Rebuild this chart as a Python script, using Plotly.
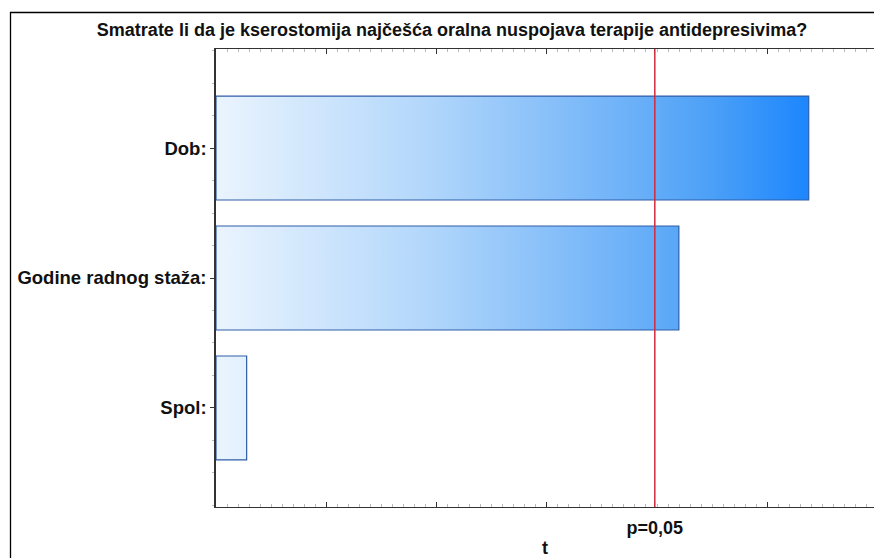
import plotly.graph_objects as go

categories = ["Dob:", "Godine radnog staža:", "Spol:"]
t_values = [2.688, 2.099, 0.139]
t_crit = 1.99
crit_label = "p=0,05"
title = "Smatrate li da je kserostomija najčešća oralna nuspojava terapije antidepresivima?"
major_ticks = [0.0, 0.5, 1.0, 1.5, t_crit, 2.5]

W, H = 874, 558
ML, MR, MT, MB = 216, 0, 49, H - 507
PW, PH = W - ML - MR, H - MT - MB

FONT = "Liberation Sans, Arial"

fig = go.Figure()
n = len(categories)
ypos = [n - 1 - i for i in range(n)]
half = 0.4
grad_stop = max(t_values)
scale = [[0.0, "#eaf4fe"], [0.35, "#b3d7fb"], [0.7, "#6cb1f8"], [0.85, "#489ef7"], [1.0, "#1c86fe"]]
for cat, v, y in zip(categories, t_values, ypos):
    fig.add_trace(go.Scatter(
        x=[0, v, v, 0, 0],
        y=[y - half, y - half, y + half, y + half, y - half],
        mode="lines", fill="toself",
        fillgradient=dict(type="horizontal", colorscale=scale, start=0, stop=grad_stop),
        line=dict(color="#2e5ea6", width=1.2),
        hoverinfo="skip", showlegend=False, name=cat,
    ))

fig.add_shape(type="line", xref="x", yref="paper", x0=t_crit, x1=t_crit, y0=0, y1=1,
              line=dict(color="#d42a3c", width=1.5))

# outer frame
fig.add_shape(type="rect", xref="paper", yref="paper",
              x0=(10.5 - ML) / PW, x1=1.05,
              y0=-0.3, y1=1 + (MT - 12.5) / PH,
              line=dict(color="#000000", width=1.3), fillcolor="rgba(0,0,0,0)", layer="below")

fig.update_layout(
    width=W, height=H,
    margin=dict(l=ML, r=MR, t=MT, b=MB, autoexpand=False),
    paper_bgcolor="white", plot_bgcolor="white",
    title=dict(text="<b>%s</b>" % title, x=452 / W, xanchor="center",
               y=1 - 30 / H, yanchor="middle",
               font=dict(family=FONT, size=18, color="#111111")),
    font=dict(family=FONT, size=18, color="#111111"),
)
fig.update_xaxes(
    range=[0, 2.984], showgrid=False, zeroline=False, automargin=False,
    showline=True, linecolor="#333333", linewidth=1.3, mirror="ticks",
    tickmode="array", tickvals=major_ticks,
    ticktext=["" if v != t_crit else "<b>%s</b>" % crit_label for v in major_ticks],
    ticks="inside", ticklen=5, tickcolor="#333333",
    tickfont=dict(family=FONT, size=18, color="#111111"),
    ticklabelstandoff=4,
    minor=dict(tickmode="linear", tick0=0, dtick=0.05, ticks="inside", ticklen=3, tickcolor="#bbbbbb"),
    title=dict(text="<b>t</b>", standoff=4, font=dict(family=FONT, size=18)),
)
fig.update_yaxes(
    range=[-0.762, n - 1 + 0.762], showgrid=False, zeroline=False, automargin=False,
    showline=True, linecolor="#333333", linewidth=1.5,
    tickmode="array", tickvals=ypos, ticktext=["<b>%s</b>" % c for c in categories],
    ticks="outside", ticklen=4, tickcolor="#333333",
    tickfont=dict(family=FONT, size=18.5, color="#111111"),
    minor=dict(tickmode="linear", tick0=0.25, dtick=0.25, ticks="outside", ticklen=2, tickcolor="#bbbbbb"),
)
fig.write_html(
    "out.html",
    config={"displayModeBar": False},
    post_script="document.documentElement.style.overflow='hidden';"
                "document.body.style.margin='0';document.body.style.overflow='hidden';",
)
